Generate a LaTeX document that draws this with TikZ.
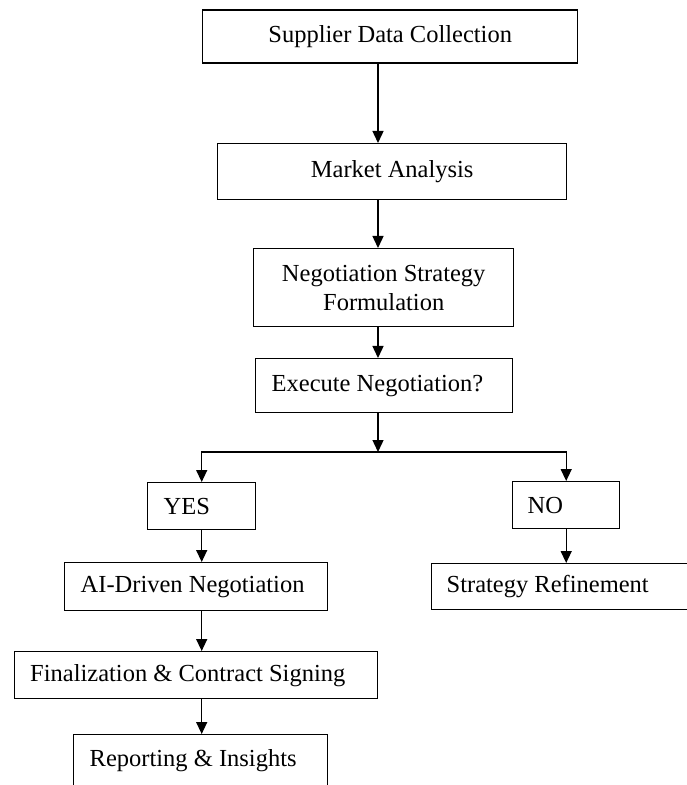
\documentclass[tikz,border=0pt]{standalone}
\usepackage{fontspec}
\setmainfont{Liberation Serif}
\usetikzlibrary{arrows.meta}
\tikzset{
  box/.style={draw, line width=0.7pt, anchor=north west, inner ysep=0pt},
  lbox/.style={box, inner xsep=8pt, minimum height=#1},
  flow/.style={line width=0.7pt, -{Triangle[length=6pt,width=5.5pt]}},
}
\newcommand{\lefttext}[2]{\makebox[#1][l]{#2}}

\begin{document}
\begin{tikzpicture}[x=0.5pt, y=-0.5pt, font=\fontsize{12.25}{14.5}\selectfont]
  \useasboundingbox (0,0) rectangle (686,785);
  \coordinate (axis) at (378,0);
  \coordinate (jn) at (378,452);
  % main column
  \node[box, minimum width=187.5pt, minimum height=26.5pt] (sup) at (202,9.3) {Supplier Data Collection};
  \node[box, minimum width=174.5pt, minimum height=28pt] (mkt) at (217,143) {Market Analysis};
  \node[box, minimum width=130pt, minimum height=39pt, align=center] (neg) at (253,248) {Negotiation Strategy\\Formulation};
  \node[lbox=27pt] (exe) at (255,358) {\lefttext{112.5pt}{Execute Negotiation?}};
  % branches
  \node[lbox=23.5pt] (yes) at (147,482) {\lefttext{38pt}{YES}};
  \node[lbox=23.5pt, inner xsep=7.5pt] (no) at (512,481) {\lefttext{38.5pt}{NO}};
  \node[lbox=24pt] (ai) at (64,562) {\lefttext{115.5pt}{AI-Driven Negotiation}};
  \node[lbox=23pt, inner xsep=7.5pt] (sr) at (431,563) {\lefttext{140pt}{Strategy Refinement}};
  \node[lbox=23.5pt] (fin) at (13.5,651) {\lefttext{165.75pt}{Finalization \& Contract Signing}};
  \node[box, inner xsep=8pt, inner ysep=3pt, text height=13pt, text depth=20pt] (rep) at (73,734) {\lefttext{111pt}{Reporting \& Insights}};
  % connectors
  \foreach \a/\b in {sup/mkt, mkt/neg, neg/exe}
    \draw[flow] (\a.south -| axis) -- (\b.north -| axis);
  \draw[flow] (exe.south -| axis) -- (jn);
  \draw[flow] (jn) -| (yes.north);
  \draw[flow] (jn) -| (no.north);
  \draw[flow] (yes.south) -- (yes.south |- ai.north);
  \draw[flow] (no.south) -- (no.south |- sr.north);
  \foreach \a/\b in {ai/fin, fin/rep}
    \draw[flow] (\a.south -| yes.south) -- (\b.north -| yes.south);
\end{tikzpicture}
\end{document}
